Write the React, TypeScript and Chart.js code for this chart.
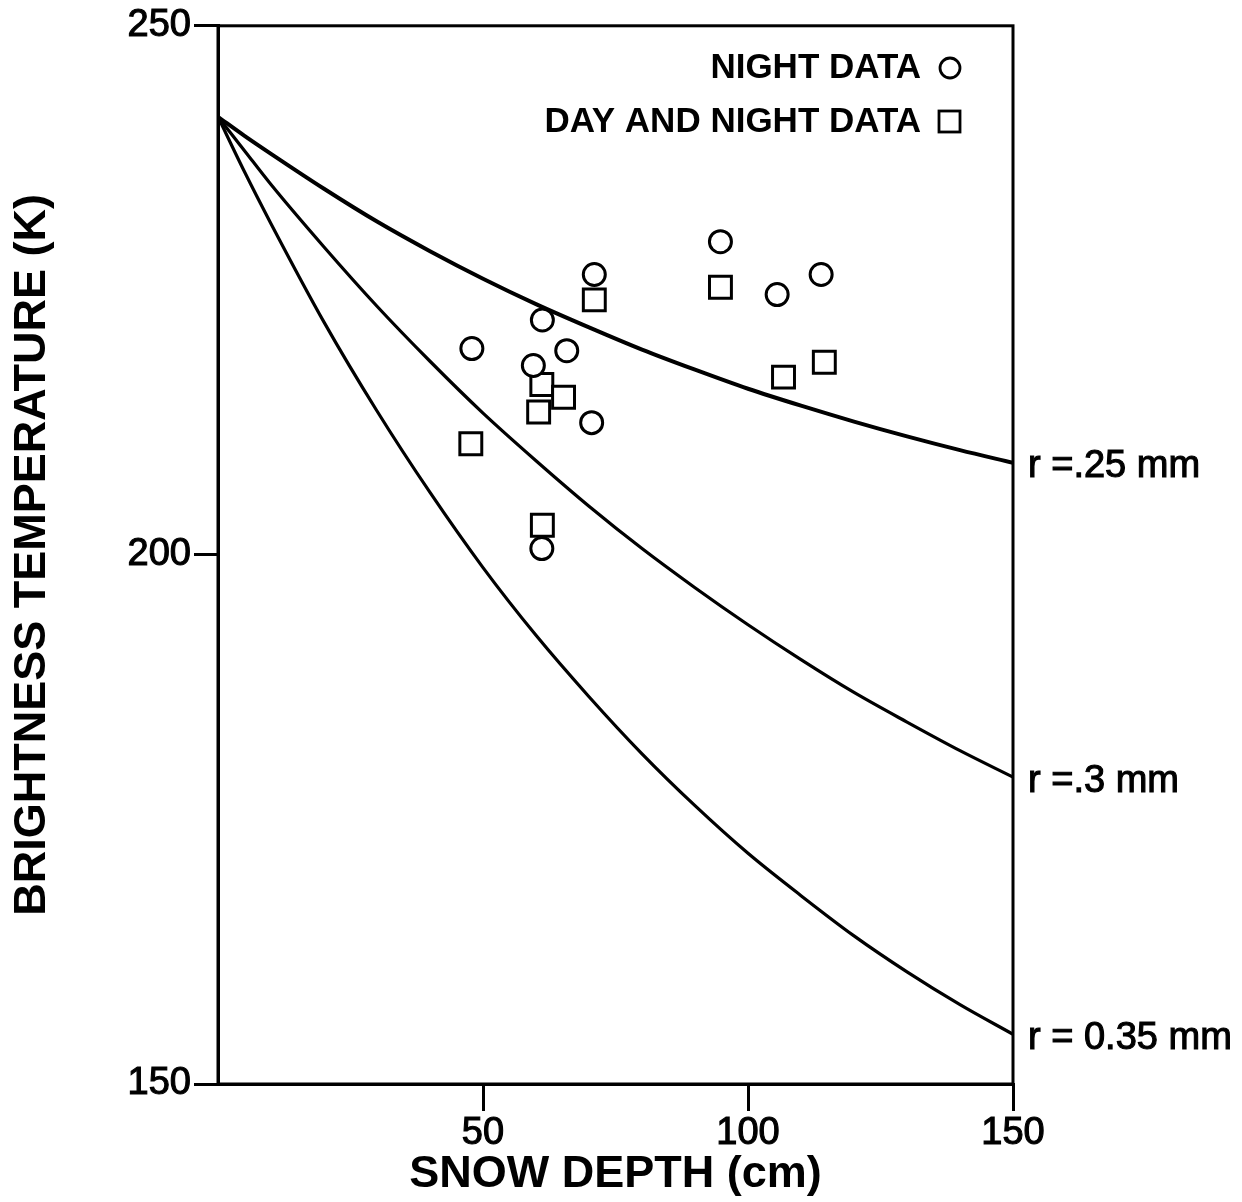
import React, { useEffect, useRef } from "react";
import { Chart, registerables } from "chart.js";

Chart.register(...registerables);

// Model curves (snow depth in cm -> brightness temperature in K)
const curveDepth = [0, 5, 10, 20, 30, 40, 50, 60, 70, 80, 90, 100, 110, 120, 130, 140, 150];
const tbR025 = [241.4, 239.6, 237.9, 234.6, 231.5, 228.7, 226.1, 223.7, 221.5, 219.4, 217.5, 215.7, 214.1, 212.6, 211.2, 209.9, 208.7];
const tbR030 = [241.4, 238.2, 235.0, 229.1, 223.5, 218.3, 213.4, 208.9, 204.6, 200.6, 196.9, 193.4, 190.1, 187.0, 184.2, 181.5, 179.0];
const tbR035 = [241.4, 236.2, 231.3, 222.0, 213.6, 205.9, 198.8, 192.4, 186.6, 181.2, 176.3, 171.8, 167.8, 164.0, 160.6, 157.5, 154.7];
const curveLabels = ["r =.25 mm", "r =.3 mm", "r = 0.35 mm"];

// Observations
const nightDepth = [47.9, 61.2, 59.5, 65.8, 71.0, 70.5, 61.1, 94.8, 105.5, 113.8];
const nightTb = [219.5, 222.2, 217.9, 219.3, 226.5, 212.5, 200.6, 229.6, 224.6, 226.5];
const dayNightDepth = [47.7, 61.1, 65.2, 60.5, 71.0, 61.2, 94.8, 106.7, 114.4];
const dayNightTb = [210.5, 216.1, 214.9, 213.5, 224.1, 202.8, 225.3, 216.8, 218.2];

const xTicks = [50, 100, 150];
const yTicks = [150, 200, 250];
const legendLabels = ["NIGHT DATA", "DAY AND NIGHT DATA"];
const xTitle = "SNOW DEPTH (cm)";
const yTitle = "BRIGHTNESS TEMPERATURE (K)";

const FONT = "'Liberation Sans', Arial, Helvetica, sans-serif";

const toXY = (xs: number[], ys: number[]) => xs.map((x, i) => ({ x, y: ys[i] }));

export default function App() {
  const ref = useRef<HTMLCanvasElement | null>(null);

  useEffect(() => {
    const canvas = ref.current;
    if (!canvas) return;

    const overlayPlugin = {
      id: "overlay",
      afterDatasetsDraw(chart: any) {
        const { ctx, chartArea, scales } = chart;
        ctx.save();
        // frame
        ctx.strokeStyle = "#000";
        ctx.lineWidth = 3;
        ctx.strokeRect(chartArea.left, chartArea.top, chartArea.right - chartArea.left, chartArea.bottom - chartArea.top);

        // curve labels at right
        const ends = [tbR025, tbR030, tbR035];
        ctx.fillStyle = "#000";
        ctx.font = `38px ${FONT}`;
        ctx.textAlign = "left";
        ctx.textBaseline = "middle";
        ctx.lineWidth = 1.1;
        ends.forEach((arr, i) => {
          const y = scales.y.getPixelForValue(arr[arr.length - 1]);
          ctx.fillText(curveLabels[i], chartArea.right + 15, y + 4);
          ctx.strokeText(curveLabels[i], chartArea.right + 15, y + 4);
        });

        // legend
        ctx.font = `bold 35px ${FONT}`;
        ctx.textAlign = "right";
        const lx = 921;
        const rows = [68, 122];
        ctx.fillText(legendLabels[0], lx, rows[0]);
        ctx.fillText(legendLabels[1], lx, rows[1]);
        ctx.lineWidth = 2.8;
        ctx.beginPath();
        ctx.arc(950, rows[0], 10, 0, Math.PI * 2);
        ctx.stroke();
        ctx.strokeRect(939, rows[1] - 11, 21, 21);
        ctx.restore();
      },
    };

    const chart = new Chart(canvas, {
      type: "scatter",
      data: {
        datasets: [
          {
            type: "line",
            data: toXY(curveDepth, tbR025),
            borderColor: "#000",
            borderWidth: 4,
            pointRadius: 0,
            cubicInterpolationMode: "monotone",
            fill: false,
          },
          {
            type: "line",
            data: toXY(curveDepth, tbR030),
            borderColor: "#000",
            borderWidth: 3.2,
            pointRadius: 0,
            cubicInterpolationMode: "monotone",
            fill: false,
          },
          {
            type: "line",
            data: toXY(curveDepth, tbR035),
            borderColor: "#000",
            borderWidth: 3.2,
            pointRadius: 0,
            cubicInterpolationMode: "monotone",
            fill: false,
          },
          {
            label: legendLabels[0],
            data: toXY(nightDepth, nightTb),
            pointStyle: "circle",
            pointRadius: 11,
            borderWidth: 3,
            borderColor: "#000",
            backgroundColor: "#fff",
          },
          {
            label: legendLabels[1],
            data: toXY(dayNightDepth, dayNightTb),
            pointStyle: "rect",
            pointRadius: 15.5,
            borderWidth: 3,
            borderColor: "#000",
            backgroundColor: "#fff",
          },
        ],
      } as any,
      options: {
        animation: false,
        responsive: false,
        events: [],
        layout: { padding: { top: 22, right: 229, left: 0, bottom: 0 } },
        plugins: {
          legend: { display: false },
          tooltip: { enabled: false },
        },
        scales: {
          x: {
            type: "linear",
            min: 0,
            max: 150,
            afterBuildTicks: (scale: any) => {
              scale.ticks = xTicks.map((v) => ({ value: v }));
            },
            afterFit: (scale: any) => {
              scale.height = 1202 - 1084;
            },
            grid: {
              drawOnChartArea: false,
              drawTicks: true,
              tickLength: 27,
              color: "#000",
              lineWidth: 3,
            },
            border: { display: true, color: "#000", width: 3 },
            ticks: {
              color: "#000",
              padding: 0,
              maxRotation: 0,
              textStrokeColor: "#000",
              textStrokeWidth: 1.1,
              font: { family: FONT, size: 38 },
            },
            title: {
              display: true,
              text: xTitle,
              color: "#000",
              padding: { top: 0, bottom: 0 },
              font: { family: FONT, size: 45, weight: "bold" },
            },
          },
          y: {
            type: "linear",
            min: 150,
            max: 250,
            afterBuildTicks: (scale: any) => {
              scale.ticks = yTicks.map((v) => ({ value: v }));
            },
            afterFit: (scale: any) => {
              scale.width = 218;
            },
            grid: {
              drawOnChartArea: false,
              drawTicks: true,
              tickLength: 24,
              color: "#000",
              lineWidth: 3,
            },
            border: { display: true, color: "#000", width: 3 },
            ticks: {
              color: "#000",
              padding: 3,
              textStrokeColor: "#000",
              textStrokeWidth: 1.1,
              font: { family: FONT, size: 38 },
            },
            title: {
              display: true,
              text: yTitle,
              color: "#000",
              padding: { top: 6, bottom: 0 },
              font: { family: FONT, size: 45, weight: "bold" },
            },
          },
        },
      } as any,
      plugins: [overlayPlugin],
    });

    return () => chart.destroy();
  }, []);

  return (
    <div style={{ position: "fixed", left: 0, top: 0, width: 1242, height: 1202, background: "#fff" }}>
      <canvas ref={ref} width={1242} height={1202} style={{ width: 1242, height: 1202, display: "block" }} />
    </div>
  );
}
